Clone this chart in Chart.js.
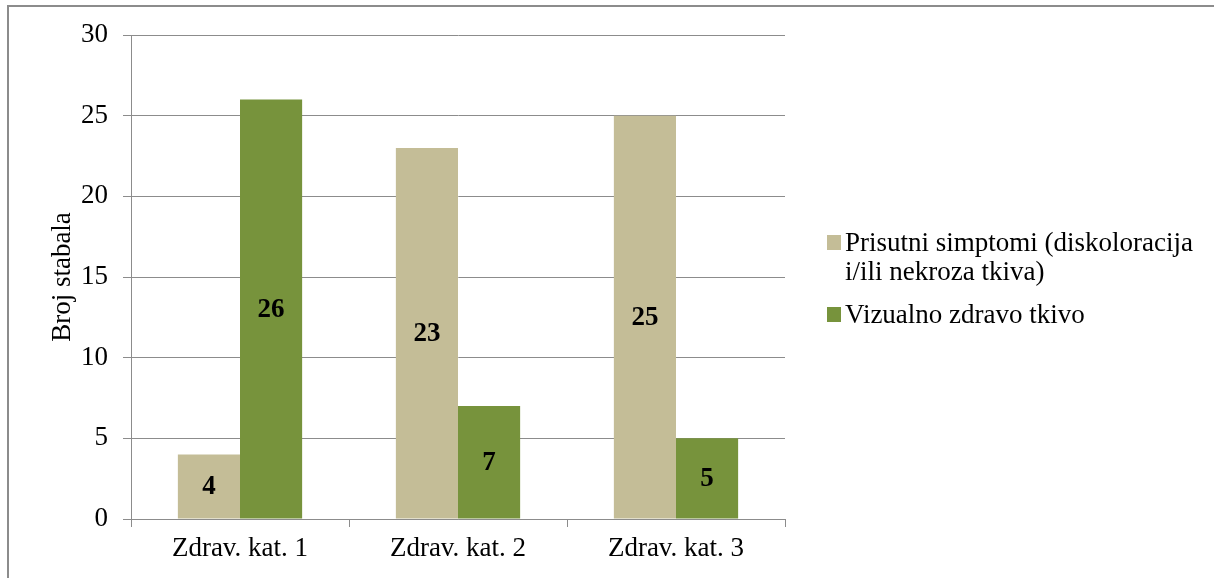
<!DOCTYPE html>
<html>
<head>
<meta charset="utf-8">
<script src="https://cdn.jsdelivr.net/npm/chart.js@4.4.1/dist/chart.umd.min.js"></script>
<style>
  html, body { margin: 0; padding: 0; background: #ffffff; }
  #wrap { width: 1214px; height: 578px; position: relative; }
</style>
</head>
<body>
<div id="wrap"><canvas id="c" width="1214" height="578"></canvas></div>
<script>
const categories = ['Zdrav. kat. 1', 'Zdrav. kat. 2', 'Zdrav. kat. 3'];
const symptomsLabel = 'Prisutni simptomi (diskoloracija i/ili nekroza tkiva)';
const healthyLabel = 'Vizualno zdravo tkivo';
const symptomsValues = [4, 23, 25];
const healthyValues = [26, 7, 5];
const yTitle = 'Broj stabala';
const yMin = 0, yMax = 30, yStep = 5;

const FONT = "'Liberation Serif', 'Times New Roman', serif";
const FS = 27;
const AXIS_GRAY = '#8c8c8c';

const bgAndBorder = {
  id: 'bgAndBorder',
  beforeDraw(chart) {
    const ctx = chart.ctx;
    ctx.save();
    ctx.fillStyle = '#ffffff';
    ctx.fillRect(0, 0, chart.width, chart.height);
    ctx.strokeStyle = AXIS_GRAY;
    ctx.lineWidth = 2;
    ctx.strokeRect(8, 6, chart.width + 20, chart.height + 20);
    ctx.restore();
  }
};

const valueLabels = {
  id: 'valueLabels',
  afterDatasetsDraw(chart) {
    const ctx = chart.ctx;
    ctx.save();
    ctx.font = "bold " + FS + "px " + FONT;
    ctx.fillStyle = '#000000';
    ctx.textAlign = 'center';
    ctx.textBaseline = 'middle';
    chart.data.datasets.forEach((ds, i) => {
      const meta = chart.getDatasetMeta(i);
      meta.data.forEach((bar, j) => {
        const p = bar.getProps(['x', 'y', 'base'], true);
        ctx.fillText(String(ds.data[j]), p.x, (p.y + p.base) / 2 + 1);
      });
    });
    ctx.restore();
  }
};

function wrapText(ctx, text, maxW) {
  const words = text.split(' ');
  const lines = [];
  let cur = '';
  words.forEach(w => {
    const t = cur ? cur + ' ' + w : w;
    if (ctx.measureText(t).width > maxW && cur) { lines.push(cur); cur = w; }
    else cur = t;
  });
  if (cur) lines.push(cur);
  return lines;
}

const sideLegend = {
  id: 'sideLegend',
  afterDraw(chart) {
    const ctx = chart.ctx;
    ctx.save();
    ctx.font = FS + "px " + FONT;
    ctx.textBaseline = 'alphabetic';
    ctx.textAlign = 'left';
    const boxX = 827, boxSize = 14, textX = 845;
    const lineH = 29, itemGap = 43;
    let baseline = 251;
    chart.data.datasets.forEach((ds) => {
      const lines = wrapText(ctx, ds.label, 362);
      ctx.fillStyle = ds.backgroundColor;
      ctx.fillRect(boxX, baseline - 16, boxSize, boxSize + 1);
      ctx.fillStyle = '#000000';
      lines.forEach((ln, k) => {
        ctx.fillText(ln, textX, baseline + k * lineH);
      });
      baseline += (lines.length - 1) * lineH + itemGap;
    });
    ctx.restore();
  }
};

new Chart(document.getElementById('c'), {
  type: 'bar',
  data: {
    labels: categories,
    datasets: [
      { label: symptomsLabel, data: symptomsValues, backgroundColor: '#C4BD97', borderWidth: 0,
        categoryPercentage: 0.57, barPercentage: 1.0 },
      { label: healthyLabel, data: healthyValues, backgroundColor: '#77933C', borderWidth: 0,
        categoryPercentage: 0.57, barPercentage: 1.0 }
    ]
  },
  options: {
    responsive: false,
    animation: false,
    devicePixelRatio: 1,
    layout: { padding: { top: 35, right: 429, left: 0, bottom: 0 } },
    plugins: {
      legend: { display: false },
      tooltip: { enabled: false },
      title: { display: false }
    },
    scales: {
      x: {
        offset: true,
        grid: { drawOnChartArea: false, drawTicks: true, tickLength: 8, color: AXIS_GRAY, offset: true },
        border: { display: true, color: AXIS_GRAY, width: 1 },
        ticks: { color: '#000000', font: { family: FONT, size: FS }, padding: 6, maxRotation: 0 },
        afterFit(scale) { scale.height = 59; }
      },
      y: {
        min: yMin, max: yMax,
        ticks: { stepSize: yStep, color: '#000000', font: { family: FONT, size: FS }, padding: 15 },
        grid: { color: AXIS_GRAY, tickLength: 8, drawTicks: true },
        border: { display: true, color: AXIS_GRAY, width: 1 },
        title: { display: true, text: yTitle, color: '#000000', font: { family: FONT, size: FS },
                 padding: { top: 47, bottom: 0 } },
        afterFit(scale) { scale.width = 131; }
      }
    }
  },
  plugins: [bgAndBorder, valueLabels, sideLegend]
});
</script>
</body>
</html>
